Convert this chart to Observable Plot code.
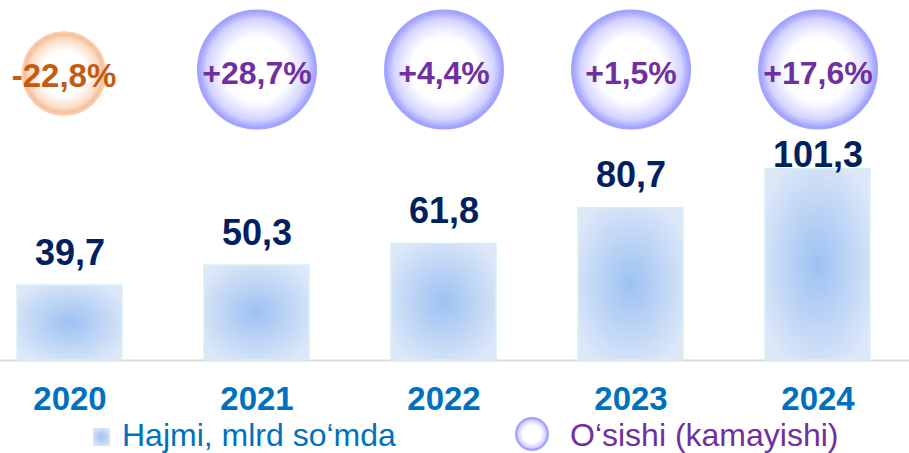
<!DOCTYPE html>
<html>
<head>
<meta charset="utf-8">
<script src="https://cdn.jsdelivr.net/npm/d3@7"></script>
<script src="https://cdn.jsdelivr.net/npm/@observablehq/plot@0.6"></script>
<style>
  html, body { margin: 0; padding: 0; background: #fff; overflow: hidden; }
  body { font-family: "Liberation Sans", Arial, sans-serif; width: 909px; height: 453px; }
  svg { display: block; }
</style>
</head>
<body>
<svg width="0" height="0" style="position:absolute">
  <defs>
    <radialGradient id="barGrad" cx="0.5" cy="0.5" r="0.6">
      <stop offset="0%" stop-color="#9cc2f2"/>
      <stop offset="100%" stop-color="#dde7f8"/>
    </radialGradient>
    <radialGradient id="bubblePurple" cx="0.5" cy="0.5" r="0.5">
      <stop offset="0%" stop-color="#ffffff"/>
      <stop offset="55%" stop-color="#ffffff"/>
      <stop offset="85%" stop-color="#d4d4ff"/>
      <stop offset="100%" stop-color="#9c9cff"/>
    </radialGradient>
    <radialGradient id="bubbleOrange" cx="0.5" cy="0.5" r="0.5">
      <stop offset="0%" stop-color="#ffffff"/>
      <stop offset="55%" stop-color="#ffffff"/>
      <stop offset="85%" stop-color="#fbdcc6"/>
      <stop offset="100%" stop-color="#f4b183"/>
    </radialGradient>
  </defs>
</svg>
<div id="chart"></div>
<div id="legend"></div>
<script>
const years = ["2020", "2021", "2022", "2023", "2024"];
const volume = [39.7, 50.3, 61.8, 80.7, 101.3];
const growth = [-22.8, 28.7, 4.4, 1.5, 17.6];
const legendLabels = ["Hajmi, mlrd so\u2018mda", "O\u2018sishi (kamayishi)"];

const fmtNum = v => v.toFixed(1).replace(".", ",");
const fmtPct = g => (g > 0 ? "+" : "") + g.toFixed(1).replace(".", ",") + "%";

const data = years.map((year, i) => ({
  year,
  volume: volume[i],
  growth: growth[i],
  vLabel: fmtNum(volume[i]),
  gLabel: fmtPct(growth[i])
}));
const lastYear = years[years.length - 1];
const pos = data.filter(d => d.growth >= 0);
const neg = data.filter(d => d.growth < 0);

const FONT = "'Liberation Sans', Arial, sans-serif";

const chart = Plot.plot({
  width: 909,
  height: 420,
  marginTop: 0,
  marginBottom: 60,
  marginLeft: 0,
  marginRight: 0,
  style: { fontFamily: FONT, background: "white", overflow: "visible" },
  x: { domain: years, range: [-67.7, 955], padding: 0.44, label: null },
  y: { domain: [0, 190.7], axis: null },
  marks: [
    Plot.ruleY([0], { stroke: "#d9d9d9", strokeWidth: 2 }),
    Plot.barY(data, {
      x: "year", y: "volume",
      fill: "url(#barGrad)", stroke: "#d3f2ee", strokeWidth: 1.5
    }),
    Plot.text(data.filter(d => d.year !== lastYear), {
      x: "year", y: "volume", text: "vLabel",
      lineAnchor: "bottom", dy: -21,
      fontSize: 36, fontWeight: "bold", fill: "#002060"
    }),
    Plot.text(data.filter(d => d.year === lastYear), {
      x: "year", y: "volume", text: "vLabel",
      lineAnchor: "bottom", dy: -2,
      fontSize: 36, fontWeight: "bold", fill: "#002060"
    }),
    Plot.dot(pos, {
      x: "year", frameAnchor: "top", dy: 69, r: 59,
      fill: "url(#bubblePurple)", stroke: "#a3a3ff", strokeWidth: 2
    }),
    Plot.dot(neg, {
      x: "year", frameAnchor: "top", dy: 73, r: 41, dx: -6,
      fill: "url(#bubbleOrange)", stroke: "#f8cbad", strokeWidth: 2.5
    }),
    Plot.text(pos, {
      x: "year", frameAnchor: "top", dy: 83, text: "gLabel",
      lineAnchor: "bottom",
      fontSize: 32, fontWeight: "bold", fill: "#7030a0"
    }),
    Plot.text(neg, {
      x: "year", frameAnchor: "top", dy: 86, dx: -6, text: "gLabel",
      lineAnchor: "bottom",
      fontSize: 33, fontWeight: "bold", fill: "#c55a11"
    }),
    Plot.axisX({
      tickSize: 0, tickPadding: 26, label: null,
      fontSize: 33, fontWeight: "bold", color: "#0070c0"
    })
  ]
});
document.getElementById("chart").appendChild(chart);

// Legend below the chart
const leg = d3.select("#legend").append("svg")
  .attr("width", 909).attr("height", 33)
  .style("overflow", "visible")
  .style("font-family", FONT);
leg.append("rect").attr("x", 93).attr("y", 8).attr("width", 17).attr("height", 18)
  .attr("fill", "url(#barGrad)");
leg.append("text").attr("x", 122).attr("y", 26)
  .attr("font-size", 32).attr("fill", "#0070c0").text(legendLabels[0]);
leg.append("circle").attr("cx", 532).attr("cy", 14).attr("r", 16)
  .attr("fill", "url(#bubblePurple)").attr("stroke", "#a3a3ff").attr("stroke-width", 2);
leg.append("text").attr("x", 570).attr("y", 26)
  .attr("font-size", 32).attr("fill", "#7030a0").text(legendLabels[1]);
</script>
</body>
</html>
